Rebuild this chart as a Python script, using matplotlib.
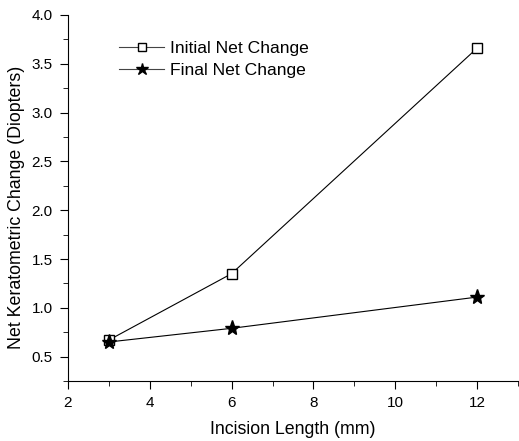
import matplotlib
matplotlib.use("Agg")
import matplotlib.pyplot as plt
from matplotlib.ticker import MultipleLocator

plt.rcParams['font.family'] = ['Liberation Sans', 'DejaVu Sans']

# incision length (mm)
incision = [3, 6, 12]
# net keratometric change (diopters)
initial_change = [0.67, 1.35, 3.66]
final_change = [0.65, 0.79, 1.11]

fig = plt.figure(figsize=(5.19, 4.41), dpi=100)
ax = fig.add_axes([0.131, 0.136, 0.867, 0.830])

ax.plot(incision, initial_change, color='black', lw=0.8, marker='s', ms=7.5,
        mfc='white', mec='black', mew=1.0, label='Initial Net Change')
ax.plot(incision, final_change, color='black', lw=0.8, marker='*', ms=11,
        mfc='black', mec='black', label='Final Net Change')

ax.set_xlim(2, 13)
ax.set_ylim(0.25, 4.0)
ax.xaxis.set_major_locator(MultipleLocator(2))
ax.xaxis.set_minor_locator(MultipleLocator(1))
ax.yaxis.set_minor_locator(MultipleLocator(0.25))
ax.set_yticks([0.5, 1.0, 1.5, 2.0, 2.5, 3.0, 3.5, 4.0])
ax.yaxis.set_major_formatter(plt.FormatStrFormatter('%.1f'))

ax.spines['top'].set_visible(False)
ax.spines['right'].set_visible(False)
ax.tick_params(which='major', direction='out', length=6, labelsize=11, pad=5)
ax.tick_params(which='minor', direction='out', length=3.5)

ax.set_xlabel('Incision Length (mm)', fontsize=12.8, labelpad=8)
ax.set_ylabel('Net Keratometric Change (Diopters)', fontsize=12.8)
ax.yaxis.set_label_coords(-0.096, 0.475)

leg = ax.legend(loc='upper left', bbox_to_anchor=(0.113, 0.93), frameon=False,
                fontsize=12.6, handlelength=2.6, handletextpad=0.3,
                labelspacing=0.4, borderaxespad=0, borderpad=0,
                markerscale=0.85)
for h in leg.legend_handles:
    h.set_color('#444444')
    h.set_markeredgecolor('black')

fig.savefig('out.png', dpi=100)
